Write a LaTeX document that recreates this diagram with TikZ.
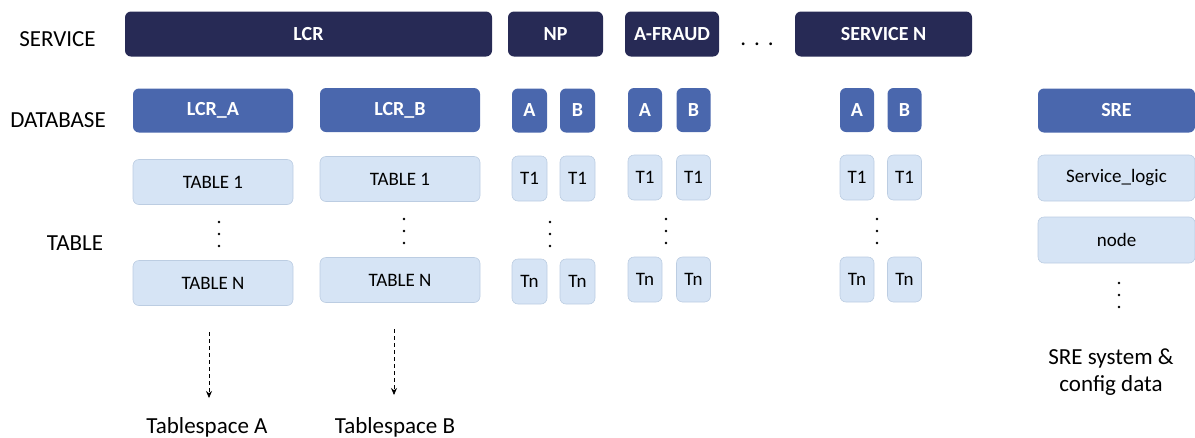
\documentclass[tikz,border=0pt]{standalone}
\usepackage{fontspec}
\setmainfont{Carlito}
\usetikzlibrary{arrows.meta}
\definecolor{navy}{HTML}{272A55}
\definecolor{dbblue}{HTML}{4A67AD}
\definecolor{tblfill}{HTML}{D6E4F5}
\definecolor{tbledge}{HTML}{BCCDE2}
\tikzset{
  svcbox/.style={fill=navy, rounded corners=6pt, text=white, inner sep=0pt,
    font=\fontsize{20}{23}\selectfont\bfseries, minimum height=45pt},
  dbbox/.style={fill=dbblue, rounded corners=6pt, text=white, inner sep=0pt,
    font=\fontsize{20}{23}\selectfont\bfseries, minimum height=44pt},
  tblbox/.style={fill=tblfill, draw=tbledge, line width=0.6pt, rounded corners=6pt,
    inner sep=0pt, font=\fontsize{19}{22}\selectfont, minimum height=45pt},
  rowlabel/.style={anchor=base, inner sep=0pt, font=\fontsize{23}{27}\selectfont},
  dasharrow/.style={dashed, dash pattern=on 4pt off 3pt, line width=0.8pt,
    -{Stealth[length=7pt,width=6pt]}},
  dotfill/.style={fill=black}
}
\newcommand{\vdotcol}[2]{%
  \fill[dotfill] (#1,#2) circle (1.4);
  \fill[dotfill] (#1,#2+12) circle (1.4);
  \fill[dotfill] (#1,#2+24) circle (1.4);}
\begin{document}
\begin{tikzpicture}[x=1pt,y=-1pt]
\useasboundingbox (0,0) rectangle (1195,437);

% row labels
\node[rowlabel] (lsvc) at (57.5,46) {SERVICE};
\node[rowlabel] (ldb)  at (58,127) {DATABASE};
\node[rowlabel] (ltbl) at (75,250) {TABLE};

% services
\node[svcbox, minimum width=367pt] (sLCR) at (308.5,34) {LCR};
\node[svcbox, minimum width=95pt]  (sNP)  at (555.5,34) {NP};
\node[svcbox, minimum width=94pt]  (sAF)  at (672,34) {A-FRAUD};
\node[rowlabel] (sdots) at (757,45) {.\hspace{8pt}.\hspace{8pt}.};
\node[svcbox, minimum width=177pt] (sSN)  at (883.5,34) {SERVICE N};

% databases
\node[dbbox, minimum width=160pt] (dLCRA) at (213,110.5) {LCR\_A};
\node[dbbox, minimum width=160pt] (dLCRB) at (400,110) {LCR\_B};
\node[dbbox, minimum width=35pt] (dNPA) at (529.5,110.5) {A};
\node[dbbox, minimum width=35pt] (dNPB) at (577.5,110.5) {B};
\node[dbbox, minimum width=34pt] (dAFA) at (645,110) {A};
\node[dbbox, minimum width=34pt] (dAFB) at (693.5,110) {B};
\node[dbbox, minimum width=34pt] (dSNA) at (857,110) {A};
\node[dbbox, minimum width=34pt] (dSNB) at (904.5,110) {B};
\node[dbbox, minimum width=157pt] (dSRE) at (1116.5,110.5) {SRE};

% first tables
\node[tblbox, minimum width=160pt] (tA1) at (213,182) {TABLE 1};
\node[tblbox, minimum width=160pt] (tB1) at (400,179) {TABLE 1};
\node[tblbox, minimum width=35pt] (tNPA1) at (529.5,178.5) {T1};
\node[tblbox, minimum width=35pt] (tNPB1) at (577.5,178.5) {T1};
\node[tblbox, minimum width=34pt] (tAFA1) at (645,177.5) {T1};
\node[tblbox, minimum width=34pt] (tAFB1) at (693.5,177.5) {T1};
\node[tblbox, minimum width=34pt] (tSNA1) at (857,177.5) {T1};
\node[tblbox, minimum width=34pt] (tSNB1) at (904.5,177.5) {T1};
\node[tblbox, minimum width=157pt, minimum height=46pt] (tSL) at (1116.5,178) {Service\_logic};
\node[tblbox, minimum width=157pt, minimum height=46pt] (tND) at (1116.5,240) {node};

% last tables
\node[tblbox, minimum width=160pt] (tAN) at (213,283) {TABLE N};
\node[tblbox, minimum width=160pt] (tBN) at (400,280) {TABLE N};
\node[tblbox, minimum width=35pt] (tNPAN) at (529.5,281.5) {Tn};
\node[tblbox, minimum width=35pt] (tNPBN) at (577.5,281.5) {Tn};
\node[tblbox, minimum width=34pt] (tAFAN) at (645,279.5) {Tn};
\node[tblbox, minimum width=34pt] (tAFBN) at (693.5,279.5) {Tn};
\node[tblbox, minimum width=34pt] (tSNAN) at (857,279.5) {Tn};
\node[tblbox, minimum width=34pt] (tSNBN) at (904.5,279.5) {Tn};

% vertical ellipses
\vdotcol{219}{222}
\vdotcol{404}{219}
\vdotcol{550}{222}
\vdotcol{666}{219}
\vdotcol{877}{219}
\vdotcol{1119}{283}

% tablespaces
\node[rowlabel] (tsA) at (207,433) {Tablespace A};
\node[rowlabel] (tsB) at (395,433) {Tablespace B};
\coordinate (aAs) at (209,332);
\coordinate (aAe) at (209,398);
\coordinate (aBs) at (394,329);
\coordinate (aBe) at (394,395);
\draw[dasharrow] (aAs) -- (aAe);
\draw[dasharrow] (aBs) -- (aBe);

% SRE note
\node[rowlabel, align=center, font=\fontsize{23}{27}\selectfont] (sreNote) at (1111,391)
  {SRE system \&\\config data};
\end{tikzpicture}
\end{document}
